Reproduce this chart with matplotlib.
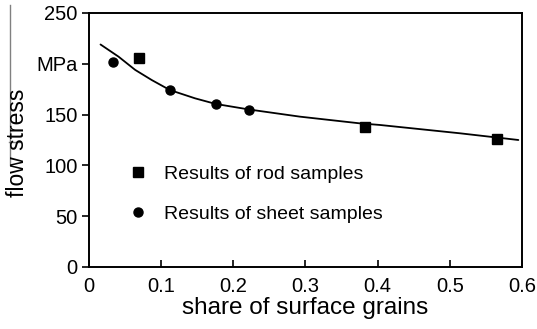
import matplotlib
matplotlib.use("Agg")
import matplotlib.pyplot as plt
from matplotlib.lines import Line2D

plt.rcParams['font.family'] = ['Liberation Sans', 'DejaVu Sans']

# data
rod_x = [0.069, 0.383, 0.565]
rod_y = [205.7, 137.8, 126.0]
sheet_x = [0.033, 0.112, 0.1755, 0.222]
sheet_y = [201.8, 174.2, 160.0, 155.0]
fit_x = [0.016, 0.041, 0.064, 0.087, 0.112, 0.147, 0.1755, 0.222, 0.292, 0.375, 0.403, 0.514, 0.595]
fit_y = [219.0, 207.0, 194.0, 184.0, 174.2, 166.0, 160.5, 155.0, 148.0, 141.4, 139.8, 131.6, 125.0]
xticks = [0, 0.1, 0.2, 0.3, 0.4, 0.5, 0.6]
xticklabels = ["0", "0.1", "0.2", "0.3", "0.4", "0.5", "0.6"]
yticks = [0, 50, 100, 150, 200, 250]
yticklabels = ["0", "50", "100", "150", "MPa", "250"]

fig = plt.figure(figsize=(5.37, 3.29), dpi=100)
ax = fig.add_axes([0.1657, 0.1885, 0.8063, 0.772])

ax.plot(fit_x, fit_y, color='black', lw=1.3, solid_capstyle='round')
ax.plot(rod_x, rod_y, 's', color='black', ms=6.5, ls='none')
ax.plot(sheet_x, sheet_y, 'o', color='black', ms=6.5, ls='none')

ax.set_xlim(0, 0.6)
ax.set_ylim(0, 250)
ax.set_xticks(xticks)
ax.set_xticklabels(xticklabels)
ax.set_yticks(yticks)
ax.set_yticklabels(yticklabels)
ax.tick_params(axis='x', direction='in', length=5, width=1.2, pad=7, labelsize=14.5)
ax.tick_params(axis='y', direction='out', length=5, width=1.2, pad=3, labelsize=14.5)
for s in ax.spines.values():
    s.set_linewidth(1.4)

ax.set_xlabel("share of surface grains", fontsize=17.5, labelpad=1)
fig.text(0.033, 0.565, "flow stress", rotation=90, fontsize=16.5, ha='center', va='center')

handles = [Line2D([], [], marker='s', color='black', ls='none', ms=6.5),
           Line2D([], [], marker='o', color='black', ls='none', ms=6.5)]
ax.legend(handles, ["Results of rod samples", "Results of sheet samples"],
          loc='upper left', bbox_to_anchor=(0.06, 0.455), frameon=False,
          fontsize=14, handletextpad=0.8, labelspacing=1.15, handlelength=1.0,
          borderaxespad=0.3)

# thin guide lines at left edge of the figure
fig.add_artist(Line2D([10/537, 10/537], [1-5/329, 1-165/329], color='gray', lw=1))
fig.add_artist(Line2D([9/537, 20/537], [1-142/329, 1-142/329], color='gray', lw=1))

fig.savefig("out.png", dpi=100)
